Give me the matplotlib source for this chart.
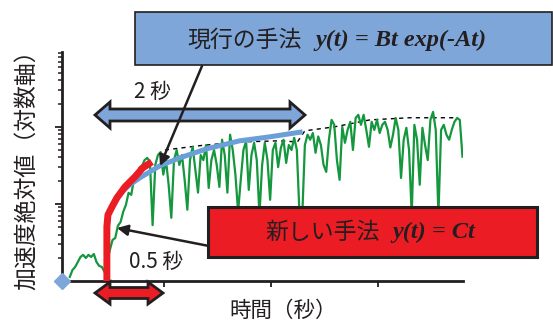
import numpy as np
import matplotlib
matplotlib.use("Agg")
import matplotlib.pyplot as plt
from matplotlib.patches import Rectangle, Polygon

plt.rcParams['font.family'] = ['Noto Sans CJK JP', 'DejaVu Sans']

# measured signal (green), sampled every 0.025 s from t = 0.12 s
t_start = 0.12
t_step = 0.025
accel = [1.13, 1.39, 1.52, 1.76, 2.05, 2.18, 1.99, 2.18, 2.05, 2.24,
         1.76, 1.57, 1.52, 1.31, 1.76, 2.53, 3.41, 3.6, 5.2, 5.8,
         7.9, 9.7, 13.9, 13.1, 20.5, 21.8, 29.4, 31, 37, 39.5,
         35, 5.3, 32, 43, 47, 24, 37, 17.7, 6.6, 37,
         50, 32, 43, 20.5, 8.4, 37, 55, 27.7, 14, 43,
         37, 58, 16.1, 37, 50, 32, 16.6, 68, 43, 14,
         79, 50, 24, 7.9, 20.5, 50, 65, 15.2, 43, 62,
         37, 7.2, 32, 62, 37, 11.3, 50, 62, 30, 53,
         68, 34, 58, 50, 72, 50, 7.2, 6.6, 58, 79,
         68, 83, 46, 75, 58, 32, 26, 68, 123, 106,
         37, 20.5, 100, 62, 91, 116, 50, 130, 143, 106,
         143, 91, 55, 116, 91, 123, 83, 106, 116, 91,
         54, 79, 130, 91, 21.7, 68, 97, 50, 7.2, 106,
         68, 17.7, 97, 58, 37, 123, 156, 91, 7.2, 91,
         106, 79, 68, 91, 116, 130, 123, 41]
t_sig = t_start + t_step * np.arange(len(accel))

# new method y(t) = Ct (red)
t_new = [0.467, 0.467, 0.467, 0.477, 0.514, 0.561, 0.636, 0.729, 0.804, 0.888]
y_new = [1.0, 2.53, 5.03, 7.2, 9.1, 12.0, 16.6, 22.4, 29.4, 35.1]

# current method y(t) = Bt exp(-At) (blue)
t_cur = [0.477, 0.514, 0.589, 0.682, 0.776, 0.963, 1.150, 1.402, 1.710, 1.991, 2.299]
y_cur = [7.2, 9.1, 13.5, 17.7, 21.8, 31.2, 39.6, 51.8, 65.8, 74.1, 86.1]

# dashed envelope
t_env = [1.01, 1.34, 1.71, 2.08, 2.25, 2.32, 2.60, 2.93, 3.30, 3.74]
y_env = [50, 57, 63.6, 65.8, 63.6, 88.7, 100, 123, 131, 131]

green = '#14973d'
red = '#ec1c24'
blue_line = '#6a9fd8'
blue_fill = '#7ea6d8'
dark = '#231f20'

W, H = 553, 325
fig = plt.figure(figsize=(W / 100, H / 100), dpi=100)
ax = fig.add_axes([62 / W, 1 - 281 / H, (463 - 62) / W, (281 - 52) / H])

ax.plot(t_env, y_env, color='black', lw=1.0, ls=(0, (3, 3)), zorder=1)
ax.plot(t_sig, accel, color=green, lw=1.6, zorder=2)
ax.plot(t_cur, y_cur, color=blue_line, lw=3.6, solid_capstyle='butt', zorder=3)
ax.plot(t_new, y_new, color=red, lw=5, solid_capstyle='butt', zorder=4)
ax.plot([0.047], [1.0], marker='D', ms=8, color=blue_fill, clip_on=False, zorder=6)

ax.set_yscale('log')
ax.set_ylim(1, 10 ** 2.97)
ax.set_xlim(0.047, 3.80)
ax.set_xticks([1, 2, 3])
ax.set_xticklabels([])
ax.set_yticks([10, 100])
ax.set_yticklabels([])
ax.yaxis.set_minor_formatter(matplotlib.ticker.NullFormatter())
ax.tick_params(axis='y', which='major', direction='out', length=5, width=1.3, color=dark)
ax.tick_params(axis='y', which='minor', direction='out', length=3, width=1.1, color=dark)
ax.tick_params(axis='x', which='major', direction='out', length=4, width=1.3, color=dark)
for s in ['top', 'right']:
    ax.spines[s].set_visible(False)
for s in ['left', 'bottom']:
    ax.spines[s].set_linewidth(2)
    ax.spines[s].set_color(dark)
ax.patch.set_visible(False)

fig.text(27 / W, 1 - 164 / H, '加速度絶対値（対数軸）', rotation=90,
         ha='center', va='center', fontsize=16.5, color=dark)
fig.text(283 / W, 1 - 311 / H, '時間（秒）', ha='center', va='center',
         fontsize=15.5, color=dark)

# annotation layer in pixel coordinates
ov = fig.add_axes([0, 0, 1, 1])
ov.set_xlim(0, W)
ov.set_ylim(H, 0)
ov.axis('off')
ov.patch.set_visible(False)


def double_arrow(x0, x1, yc, shaft, head, head_len, fc, lw):
    pts = [(x0, yc), (x0 + head_len, yc - head), (x0 + head_len, yc - shaft),
           (x1 - head_len, yc - shaft), (x1 - head_len, yc - head), (x1, yc),
           (x1 - head_len, yc + head), (x1 - head_len, yc + shaft),
           (x0 + head_len, yc + shaft), (x0 + head_len, yc + head)]
    ov.add_patch(Polygon(pts, closed=True, fc=fc, ec=dark, lw=lw, joinstyle='miter'))


ov.add_patch(Rectangle((135, 12), 417, 53, fc=blue_fill, ec=dark, lw=1.2))
ov.text(187, 40, '現行の手法', ha='left', va='center', fontsize=16.5, color=dark)
ov.text(315, 40, 'y(t) = Bt exp(-At)', ha='left', va='center', fontsize=17.5,
        family='Liberation Serif', style='italic', weight='bold', color=dark)

ov.add_patch(Rectangle((208, 207), 329, 50, fc=red, ec=dark, lw=2.2))
ov.text(265, 232, '新しい手法', ha='left', va='center', fontsize=16.5, color=dark)
ov.text(392, 232, 'y(t) = Ct', ha='left', va='center', fontsize=17.5,
        family='Liberation Serif', style='italic', weight='bold', color=dark)

double_arrow(95, 305, 115, 6, 13, 15, blue_fill, 2.0)
double_arrow(95, 163, 293, 5.5, 11, 15, red, 2.0)

ov.text(152, 92, '2 秒', ha='center', va='center', fontsize=15, color=dark)
ov.text(156, 262, '0.5 秒', ha='center', va='center', fontsize=15, color=dark)

ov.annotate('', xy=(160, 166), xytext=(202, 66),
            arrowprops=dict(arrowstyle='-|>', color=dark, lw=1.8, mutation_scale=16,
                            shrinkA=0, shrinkB=0))
ov.annotate('', xy=(117, 228), xytext=(209, 246),
            arrowprops=dict(arrowstyle='-|>', color=dark, lw=1.8, mutation_scale=16,
                            shrinkA=0, shrinkB=0))

fig.savefig('out.png', dpi=100)
